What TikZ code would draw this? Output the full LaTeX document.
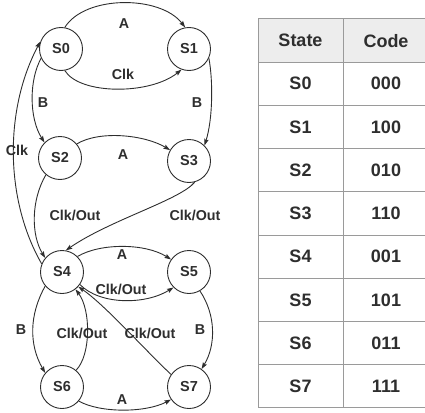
\documentclass[tikz,border=0pt]{standalone}
\usepackage{fontspec}
\setmainfont{Liberation Sans}
\usetikzlibrary{arrows.meta}
\definecolor{ink}{HTML}{2E2E2E}
\definecolor{gridline}{HTML}{9A9A9A}
\definecolor{headfill}{HTML}{EDEDED}
\tikzset{
  state/.style={circle,draw=ink,line width=0.9pt,minimum size=43pt,inner sep=0pt,
    font=\fontsize{14.5}{14.5}\selectfont\bfseries,text=ink},
  trans/.style={draw=ink,line width=0.9pt,-{Stealth[length=6.5pt,width=4.5pt,inset=1pt]}},
  elabel/.style={font=\fontsize{14.3}{14.3}\selectfont\bfseries,text=ink,inner sep=0pt},
  cell/.style={font=\fontsize{18}{18}\selectfont\bfseries,text=ink,inner sep=0pt},
  rule/.style={draw=gridline,line width=1pt}
}
\begin{document}
\begin{tikzpicture}[x=1pt,y=-1pt]
\useasboundingbox (0,0) rectangle (425,412);

% states
\node[state] (S0) at (61,49) {S0};
\node[state] (S1) at (189,49) {S1};
\node[state] (S2) at (60,158) {S2};
\node[state] (S3) at (189,161) {S3};
\node[state] (S4) at (62,272) {S4};
\node[state] (S5) at (189,272) {S5};
\node[state] (S6) at (62,387) {S6};
\node[state] (S7) at (189,387) {S7};

% transitions
\draw[trans] (S0.80) .. controls (85,-5) and (160,-5) .. (S1.100);
\draw[trans] (S0.-80) .. controls (80,95) and (150,95) .. (S1.-110);
\draw[trans] (S0.-155) .. controls (29,80) and (29,118) .. (S2.135);
\draw[trans] (S1.-25) .. controls (213,80) and (213,118) .. (S3.45);
\draw[trans] (S2.40) .. controls (100,130) and (145,135) .. (S3.150);
\draw[trans] (S4.158) .. controls (5,200) and (4,110) .. (S0.160);
\draw[trans] (S2.-130) .. controls (31,200) and (31,235) .. (S4.140);
\draw[trans] (S3.-75) .. controls (180,200) and (110,220) .. (S4.80);
\draw[trans] (S4.45) .. controls (100,243) and (145,243) .. (S5.145);
\draw[trans] (S4.-35) .. controls (100,305) and (145,305) .. (S5.-135);
\draw[trans] (S4.-140) .. controls (29,315) and (29,345) .. (S6.140);
\draw[trans] (S6.50) .. controls (91,355) and (91,310) .. (S4.-52);
\draw[trans] (S7.145) .. controls (145,350) and (105,305) .. (S4.-42);
\draw[trans] (S5.-60) .. controls (216,315) and (216,345) .. (S7.55);
\draw[trans] (S6.-40) .. controls (100,413) and (145,413) .. (S7.-145);

% transition labels
\node[elabel] (l1) at (124,24) {A};
\node[elabel] (l2) at (123,74) {Clk};
\node[elabel] (l3) at (43,103) {B};
\node[elabel] (l4) at (197,103) {B};
\node[elabel] (l5) at (123,155) {A};
\node[elabel] (l6) at (17,150) {Clk};
\node[elabel] (l7) at (75,215) {Clk/Out};
\node[elabel] (l8) at (195,215) {Clk/Out};
\node[elabel] (l9) at (122,255) {A};
\node[elabel] (l10) at (121,289) {Clk/Out};
\node[elabel] (l11) at (21,330) {B};
\node[elabel] (l12) at (82,333) {Clk/Out};
\node[elabel] (l13) at (150,333) {Clk/Out};
\node[elabel] (l14) at (200,330) {B};
\node[elabel] (l15) at (122,400) {A};

% encoding table
\fill[headfill] (258,19) rectangle (425,62.2);
\foreach \r in {0,...,9}
  \draw[rule] (258,19+43.2*\r) -- (425,19+43.2*\r);
\draw[rule] (258,19) -- (258,407.8);
\draw[rule] (343,19) -- (343,407.8);
\node[cell] (hs) at (300.5,40.6) {State};
\node[cell] (hc) at (386,40.6) {Code};
\foreach \s/\c [count=\i from 0] in {S0/000,S1/100,S2/010,S3/110,S4/001,S5/101,S6/011,S7/111}{
  \node[cell] (ts\i) at (300.5,83.8+43.2*\i) {\s};
  \node[cell] (tc\i) at (386,83.8+43.2*\i) {\c};
}
\end{tikzpicture}
\end{document}
